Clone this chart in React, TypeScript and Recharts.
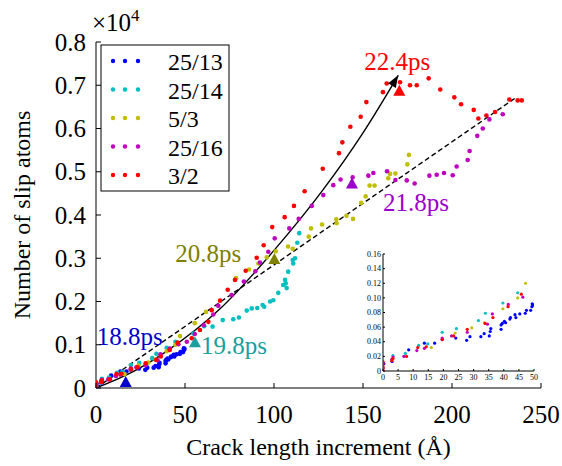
import React from "react";
import { ComposedChart, Scatter, Line, XAxis, YAxis } from "recharts";

// legend names, one per series
const SERIES_NAMES = ["25/13", "25/14", "5/3", "25/16", "3/2"];

// [crack length increment (Å), slip atoms (x10^4)]
const S_25_13: [number, number][] = [
  [0, 0.004], [0.3, 0.01], [3, 0.013], [8.5, 0.029], [13.7, 0.038], [17.1, 0.038],
  [19.6, 0.043], [24.1, 0.045], [27.7, 0.042], [28.8, 0.047], [32.4, 0.047], [33.5, 0.051],
  [35.2, 0.048], [35.5, 0.054], [35.7, 0.058], [39.1, 0.057], [39.1, 0.063], [39.5, 0.065],
  [40.2, 0.068], [40.6, 0.066], [42, 0.071], [42.2, 0.073], [43.7, 0.077], [44, 0.073],
  [45.3, 0.078], [47.1, 0.079], [47.5, 0.083], [48.9, 0.083], [49.3, 0.088], [49.4, 0.092],
  [49.7, 0.09],
];
const S_25_14: [number, number][] = [
  [0, 0.005], [3.3, 0.021], [7.4, 0.024], [11.8, 0.035], [14.8, 0.037], [19.6, 0.053],
  [24.3, 0.058], [31.6, 0.069], [33.9, 0.079], [39.7, 0.093], [44.6, 0.107], [54.7, 0.126],
  [60.8, 0.143], [65.5, 0.142], [71.2, 0.157], [77.1, 0.159], [80.3, 0.163], [84.7, 0.179],
  [87.5, 0.184], [90.6, 0.185], [93.6, 0.192], [94.5, 0.188], [97.8, 0.2], [99.6, 0.203],
  [102.4, 0.22], [105.2, 0.238], [106.2, 0.25], [107.1, 0.231], [106.6, 0.242], [108, 0.269],
  [110.8, 0.288], [110.5, 0.296], [111.8, 0.3], [113.1, 0.336], [114.2, 0.358],
];
const S_5_3: [number, number][] = [
  [0, 0.004], [16, 0.032], [23.9, 0.052], [29.4, 0.059], [33.6, 0.066], [39.7, 0.085],
  [44.6, 0.1], [47.2, 0.12], [55.5, 0.15], [61.8, 0.176], [78.7, 0.254], [86, 0.274],
  [91.2, 0.288], [95.9, 0.302], [101, 0.316], [107.9, 0.327], [110.5, 0.322], [119.5, 0.35],
  [120.8, 0.369], [127, 0.378], [135, 0.39], [135.2, 0.381], [140.7, 0.398], [144.4, 0.391],
  [148.9, 0.428], [151.5, 0.443], [153.7, 0.468], [156.5, 0.468], [164.2, 0.485], [165.2, 0.495],
  [168.2, 0.496], [174.9, 0.517], [175.8, 0.539],
];
const S_25_16: [number, number][] = [
  [0, 0.004], [2.9, 0.016], [3.3, 0.019], [6.9, 0.02], [11.2, 0.028], [13.7, 0.031],
  [19.6, 0.045], [22.7, 0.048], [27.9, 0.053], [34.6, 0.064], [36.2, 0.078], [41.5, 0.091],
  [46.3, 0.101], [51, 0.107], [55.5, 0.125], [60.5, 0.145], [65.9, 0.17], [68.7, 0.19],
  [76.2, 0.215], [83.1, 0.246], [89.5, 0.27], [92.1, 0.29], [96.8, 0.315], [100.4, 0.346],
  [108.6, 0.369], [113.9, 0.391], [121.2, 0.421], [127.7, 0.446], [133.3, 0.469], [137.4, 0.482],
  [144.2, 0.487], [153, 0.491], [155.8, 0.497], [163.5, 0.501], [168.2, 0.481], [174.6, 0.48],
  [179, 0.473], [187.3, 0.491], [191.4, 0.493], [195.5, 0.497], [200.4, 0.492], [202.6, 0.512],
  [208.8, 0.527], [209.9, 0.548], [214.2, 0.583], [217.3, 0.6], [221, 0.621], [228.5, 0.633],
];
const S_3_2: [number, number][] = [
  [0, 0.001], [0, 0.004], [0, 0.007], [0, 0.01], [0, 0.013], [2.9, 0.014], [3.3, 0.017],
  [7.8, 0.02], [11.5, 0.032], [14.3, 0.033], [19.6, 0.043], [23.4, 0.048], [27.9, 0.057],
  [33.8, 0.065], [36.4, 0.073], [41.4, 0.088], [45.8, 0.105], [53.8, 0.115], [58.4, 0.134],
  [63.1, 0.153], [65, 0.18], [69.7, 0.202], [74, 0.227], [78.1, 0.25], [84.1, 0.271],
  [90.3, 0.301], [94.2, 0.33], [99, 0.372], [106, 0.395], [111.2, 0.421], [117.2, 0.455],
  [127.4, 0.507], [136.5, 0.543], [138.4, 0.568], [142.9, 0.604], [148.7, 0.627], [151.9, 0.661],
  [161.2, 0.684], [163.3, 0.704], [170.8, 0.707], [176.4, 0.7], [180.2, 0.7], [186.9, 0.716],
  [193.4, 0.69], [201.3, 0.672], [205.1, 0.656], [212.2, 0.643], [214.8, 0.623], [219.3, 0.63],
  [224.2, 0.638], [232.2, 0.667], [236.9, 0.665], [239.2, 0.665],
];
const SERIES = [S_25_13, S_25_14, S_5_3, S_25_16, S_3_2];

// solid arrow curve and dashed reference line
const ARROW_X = [0, 20, 40, 69.7, 100.6, 127.5, 150, 169.8];
const ARROW_Y = [0, 0.036, 0.086, 0.183, 0.321, 0.458, 0.59, 0.723];
const DASH_X = [0, 235.4];
const DASH_Y = [0, 0.67];

// triangle markers with times
const MARK_LABELS = ["18.8ps", "19.8ps", "20.8ps", "21.8ps", "22.4ps"];
const MARK_X = [16.7, 55.6, 100.2, 143.8, 170.4];
const MARK_Y = [0.014, 0.106, 0.298, 0.473, 0.687];

const MAIN_X_TICKS = [0, 50, 100, 150, 200, 250];
const MAIN_Y_TICKS = [0, 0.1, 0.2, 0.3, 0.4, 0.5, 0.6, 0.7, 0.8];
const INSET_X_TICKS = [0, 5, 10, 15, 20, 25, 30, 35, 40, 45, 50];
const INSET_Y_TICKS = [0, 0.02, 0.04, 0.06, 0.08, 0.1, 0.12, 0.14, 0.16];

// styles
const FONT = "Liberation Serif";
const DOT_COLORS = ["#0000ff", "#00bfbf", "#bfbf00", "#bf00bf", "#ff0000"];
const MARK_COLORS = ["#0000cc", "#1a9e9e", "#808000", "#9c00cc", "#ff0000"];
const LABEL_OFFSETS: [number, number][] = [[-29, -37], [6, 12], [-99, 2.5], [31, 27.5], [-35, -20.7]];

const txt = (size: number) => ({ fontFamily: FONT, fontSize: size });

const toPts = (d: [number, number][]) => d.map(([x, y]) => ({ x, y }));
const arrowData = ARROW_X.map((x, i) => ({ x, y: ARROW_Y[i] }));
const dashData = DASH_X.map((x, i) => ({ x, y: DASH_Y[i] }));
const markData = MARK_X.map((x, i) => ({ x, y: MARK_Y[i], i }));

function makeTick(side: string, len: number, fontSize: number, fmt: ((v: number) => string) | null, gap: number) {
  return (props: any) => {
    const { x, y, payload } = props;
    const v = payload.value;
    const k = `${side}-${v}`;
    if (side === "bottom") {
      return (
        <g key={k}>
          <line x1={x} y1={y} x2={x} y2={y - len} stroke="#000" />
          {fmt && <text x={x} y={y + gap} textAnchor="middle" style={txt(fontSize)} fill="#000">{fmt(v)}</text>}
        </g>
      );
    }
    if (side === "left") {
      return (
        <g key={k}>
          <line x1={x} y1={y} x2={x + len} y2={y} stroke="#000" />
          {fmt && <text x={x - gap} y={y + fontSize * 0.34} textAnchor="end" style={txt(fontSize)} fill="#000">{fmt(v)}</text>}
        </g>
      );
    }
    if (side === "top") return <line key={k} x1={x} y1={y} x2={x} y2={y + len} stroke="#000" />;
    return <line key={k} x1={x} y1={y} x2={x - len} y2={y} stroke="#000" />;
  };
}

let prevArrowPt = { x: 0, y: 0 };
const arrowDot = (p: any) => {
  const { cx, cy, index, points } = p;
  const last = ARROW_X.length - 1;
  if (index !== last) {
    prevArrowPt = { x: cx, y: cy };
    return <g key={`a${index}`} />;
  }
  const prev = points && points[last - 1] ? points[last - 1] : prevArrowPt;
  const ang = Math.atan2(cy - prev.y, cx - prev.x);
  const L = 12, W = 4.5;
  const bx = cx - L * Math.cos(ang), by = cy - L * Math.sin(ang);
  const px = -Math.sin(ang) * W, py = Math.cos(ang) * W;
  return <polygon key="arrowhead" points={`${cx},${cy} ${bx + px},${by + py} ${bx - px},${by - py}`} fill="#000" />;
};

const markShape = (p: any) => {
  const { cx, cy, payload } = p;
  const i = payload.i;
  const [dx, dy] = LABEL_OFFSETS[i];
  return (
    <g>
      <polygon points={`${cx},${cy - 6} ${cx - 6},${cy + 5} ${cx + 6},${cy + 5}`} fill={MARK_COLORS[i]} />
      <text x={cx + dx} y={cy + dy} style={txt(25)} fill={MARK_COLORS[i]}>{MARK_LABELS[i]}</text>
    </g>
  );
};

const dotShape = (color: string, r: number) => (p: any) => <circle cx={p.cx} cy={p.cy} r={r} fill={color} />;

const fmtMainY = (v: number) => (v === 0 ? "0" : v.toFixed(1));
const fmtInsetY = (v: number) => (v === 0 ? "0" : v.toFixed(2));
const fmtInt = (v: number) => String(v);

export default function App() {
  return (
    <div style={{ position: "absolute", left: 0, top: 0, width: 562, height: 466, background: "#fff", fontFamily: FONT }}>
      <ComposedChart width={562} height={466} margin={{ top: 42, right: 21, bottom: 28, left: 36 }}>
        <XAxis dataKey="x" type="number" domain={[0, 250]} ticks={MAIN_X_TICKS} interval={0} allowDataOverflow height={50}
          stroke="#000" tickLine={false} tickSize={0} tickMargin={0} tick={makeTick("bottom", 5, 25, fmtInt, 35)} />
        <XAxis xAxisId="top" orientation="top" dataKey="x" type="number" domain={[0, 250]} ticks={MAIN_X_TICKS} interval={0}
          allowDataOverflow height={0} stroke="#000" tickLine={false} tickSize={0} tickMargin={0} tick={makeTick("top", 5, 0, null, 0)} />
        <YAxis dataKey="y" type="number" domain={[0, 0.8]} ticks={MAIN_Y_TICKS} interval={0} allowDataOverflow width={60}
          stroke="#000" tickLine={false} tickSize={0} tickMargin={0} tick={makeTick("left", 5, 25, fmtMainY, 10)} />
        <YAxis yAxisId="right" orientation="right" dataKey="y" type="number" domain={[0, 0.8]} ticks={MAIN_Y_TICKS} interval={0}
          allowDataOverflow width={0} stroke="#000" tickLine={false} tickSize={0} tickMargin={0} tick={makeTick("right", 5, 0, null, 0)} />
        {SERIES.map((s, i) => (
          <Scatter key={SERIES_NAMES[i]} name={SERIES_NAMES[i]} data={toPts(s)} dataKey="y"
            shape={dotShape(DOT_COLORS[i], 2.3)} isAnimationActive={false} />
        ))}
        <Line data={dashData} dataKey="y" type="linear" stroke="#000" strokeWidth={1.4} strokeDasharray="5 3"
          dot={false} activeDot={false} isAnimationActive={false} />
        <Line data={arrowData} dataKey="y" type="monotone" stroke="#000" strokeWidth={1.4}
          dot={arrowDot} activeDot={false} isAnimationActive={false} />
        <Scatter data={markData} dataKey="y" shape={markShape} isAnimationActive={false} />
      </ComposedChart>

      <div style={{ position: "absolute", left: 355, top: 245, width: 190, height: 150 }}>
        <ComposedChart width={190} height={150} margin={{ top: 9, right: 11, bottom: 10, left: 4 }}>
          <XAxis dataKey="x" type="number" domain={[0, 50]} ticks={INSET_X_TICKS} interval={0} allowDataOverflow height={14}
            stroke="#000" tickLine={false} tickSize={0} tickMargin={0} tick={makeTick("bottom", 2, 8, fmtInt, 9)} />
          <XAxis xAxisId="top" orientation="top" dataKey="x" type="number" domain={[0, 50]} ticks={INSET_X_TICKS} interval={0}
            allowDataOverflow height={0} stroke="#000" tickLine={false} tickSize={0} tickMargin={0} tick={makeTick("top", 2, 0, null, 0)} />
          <YAxis dataKey="y" type="number" domain={[0, 0.16]} ticks={INSET_Y_TICKS} interval={0} allowDataOverflow width={24}
            stroke="#000" tickLine={false} tickSize={0} tickMargin={0} tick={makeTick("left", 2, 8, fmtInsetY, 2)} />
          <YAxis yAxisId="right" orientation="right" dataKey="y" type="number" domain={[0, 0.16]} ticks={INSET_Y_TICKS} interval={0}
            allowDataOverflow width={0} stroke="#000" tickLine={false} tickSize={0} tickMargin={0} tick={makeTick("right", 2, 0, null, 0)} />
          {SERIES.map((s, i) => (
            <Scatter key={SERIES_NAMES[i]} data={toPts(s.filter(([x]) => x <= 50))} dataKey="y"
              shape={dotShape(DOT_COLORS[i], 1.6)} isAnimationActive={false} />
          ))}
        </ComposedChart>
      </div>

      <svg width={562} height={466} style={{ position: "absolute", left: 0, top: 0, pointerEvents: "none" }}>
        <text x={92} y={31} style={txt(25)} fill="#000">
          ×10<tspan style={{ fontSize: 17 }} dy={-10}>4</tspan>
        </text>
        <text x={318.5} y={455} textAnchor="middle" style={txt(24)} fill="#000">Crack length increment (Å)</text>
        <text transform="translate(30,215) rotate(-90)" textAnchor="middle" style={txt(24)} fill="#000">Number of slip atoms</text>
        <rect x={101} y={45} width={128} height={146} fill="#fff" stroke="#000" strokeWidth={1} />
        {SERIES_NAMES.map((name, i) => {
          const cy = 61 + i * 28.5;
          return (
            <g key={name}>
              {[113, 125, 138].map((cx) => <circle key={cx} cx={cx} cy={cy} r={2.2} fill={DOT_COLORS[i]} />)}
              <text x={168} y={cy + 9} style={txt(24)} fill="#000">{name}</text>
            </g>
          );
        })}
      </svg>
    </div>
  );
}
